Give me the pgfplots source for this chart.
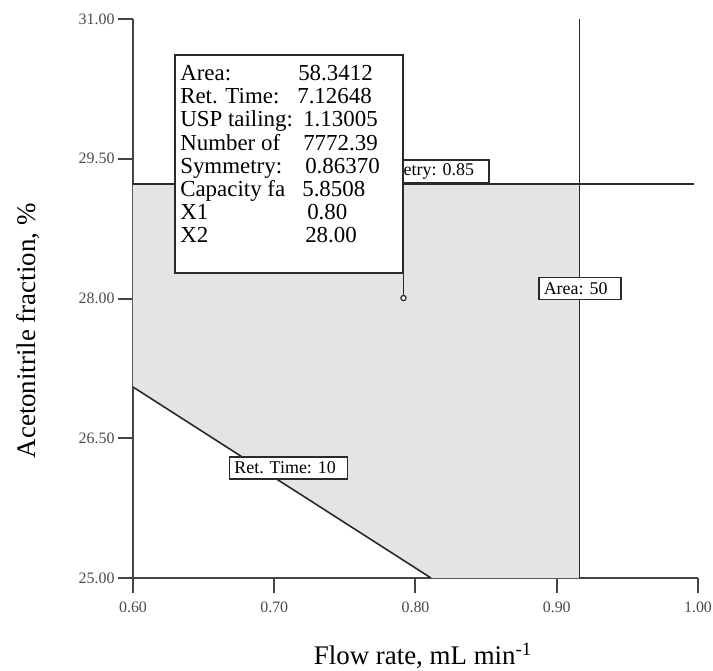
\documentclass[border=0pt]{standalone}
\usepackage{fontspec}
\setmainfont{Liberation Serif}
\usepackage{pgfplots}
\pgfplotsset{compat=1.18}
\definecolor{ln}{HTML}{2A2A2A}
\definecolor{ax}{HTML}{444444}
\definecolor{fillg}{HTML}{E4E4E4}
\definecolor{tl}{HTML}{4A4A4A}
\begin{document}
\begin{tikzpicture}
\begin{axis}[
  scale only axis, width=565bp, height=559bp,
  xmin=0.6, xmax=1.0, ymin=25, ymax=31,
  axis x line*=bottom, axis y line*=left,
  axis line style={ax, line width=2bp, -},
  xtick={0.6,0.7,0.8,0.9,1.0},
  ytick={25,26.5,28,29.5,31},
  tick align=outside, major tick length=15bp,
  tick style={ax, line width=2bp},
  xticklabel={\pgfmathprintnumber[fixed,fixed zerofill,precision=2,assume math mode=true]{\tick}},
  yticklabel={\pgfmathprintnumber[fixed,fixed zerofill,precision=2,assume math mode=true]{\tick}},
  xticklabel style={font=\fontsize{16}{19}\selectfont, text=tl, yshift=-5bp},
  yticklabel style={font=\fontsize{16}{19}\selectfont, text=tl},
  xlabel={Flow rate, mL min\textsuperscript{-1}},
  ylabel={Acetonitrile fraction, \%},
  every axis x label/.style={at={(axis description cs:0.513,0)}, anchor=base, yshift=-86bp, font=\fontsize{27}{32}\selectfont},
  every axis y label/.style={at={(axis description cs:-0.1717,0.442)}, anchor=base, rotate=90, font=\fontsize{27}{32}\selectfont},
  clip=false,
]
\coordinate (O) at (axis cs:0.6,25);
% feasible region
\addplot[fill=fillg, draw=none] coordinates {(0.6,27.05) (0.6,29.23) (0.916,29.23) (0.916,25) (0.811,25)};
% contour lines
\addplot[ln, line width=1.6bp] coordinates {(0.6,29.23) (0.997,29.23)};
\addplot[ln, line width=1.6bp] coordinates {(0.916,25) (0.916,31)};
\addplot[ln, line width=1.6bp] coordinates {(0.6,27.05) (0.811,25)};
% contour labels
\node[draw=ln, line width=1.5bp, fill=white, inner xsep=0pt, inner ysep=0pt, minimum height=22bp, font=\fontsize{18}{21}\selectfont] at (axis cs:0.9163,28.11) {\makebox[82bp][l]{\hspace{5bp}Area: 50}};
\node[draw=ln, line width=1.5bp, fill=white, inner xsep=0pt, inner ysep=0pt, minimum height=22bp, font=\fontsize{18}{21}\selectfont] at (axis cs:0.71,26.18) {\makebox[118bp][l]{\hspace{5bp}Ret. Time: 10}};
\node[draw=ln, line width=1.5bp, fill=white, inner xsep=0pt, inner ysep=0pt, minimum height=23bp, anchor=south east, font=\fontsize{18}{21}\selectfont] at (axis cs:0.8525,29.23) {\makebox[134bp][l]{\hspace{2bp}Symmetry: 0.85}};
% info box
\draw[ln, line width=2bp, fill=white] (axis cs:0.6298,30.614) rectangle (axis cs:0.7915,28.274);
\node[anchor=north west, inner sep=0pt, align=left, font=\fontsize{23}{23.3}\selectfont] at ([xshift=5bp,yshift=-10bp]axis cs:0.6298,30.614) {%
\makebox[118bp][l]{Area:}58.3412\\
\makebox[117bp][l]{Ret. Time:}7.12648\\
\makebox[123bp][l]{USP tailing:}1.13005\\
\makebox[123bp][l]{Number of}7772.39\\
\makebox[125bp][l]{Symmetry:}0.86370\\
\makebox[122bp][l]{Capacity fa}5.8508\\
\makebox[127bp][l]{X1}0.80\\
\makebox[125bp][l]{X2}28.00};
\addplot[ln, line width=1.6bp] coordinates {(0.7915,28.274) (0.7915,28.005)};
\addplot[ln, line width=1.2bp, only marks, mark=*, mark size=2.6bp, mark options={fill=white}] coordinates {(0.7915,28.005)};
\end{axis}
\pgfresetboundingbox
\path[use as bounding box] ([xshift=-133bp,yshift=-93bp]O) rectangle ([xshift=580bp,yshift=578bp]O);
\end{tikzpicture}
\end{document}
